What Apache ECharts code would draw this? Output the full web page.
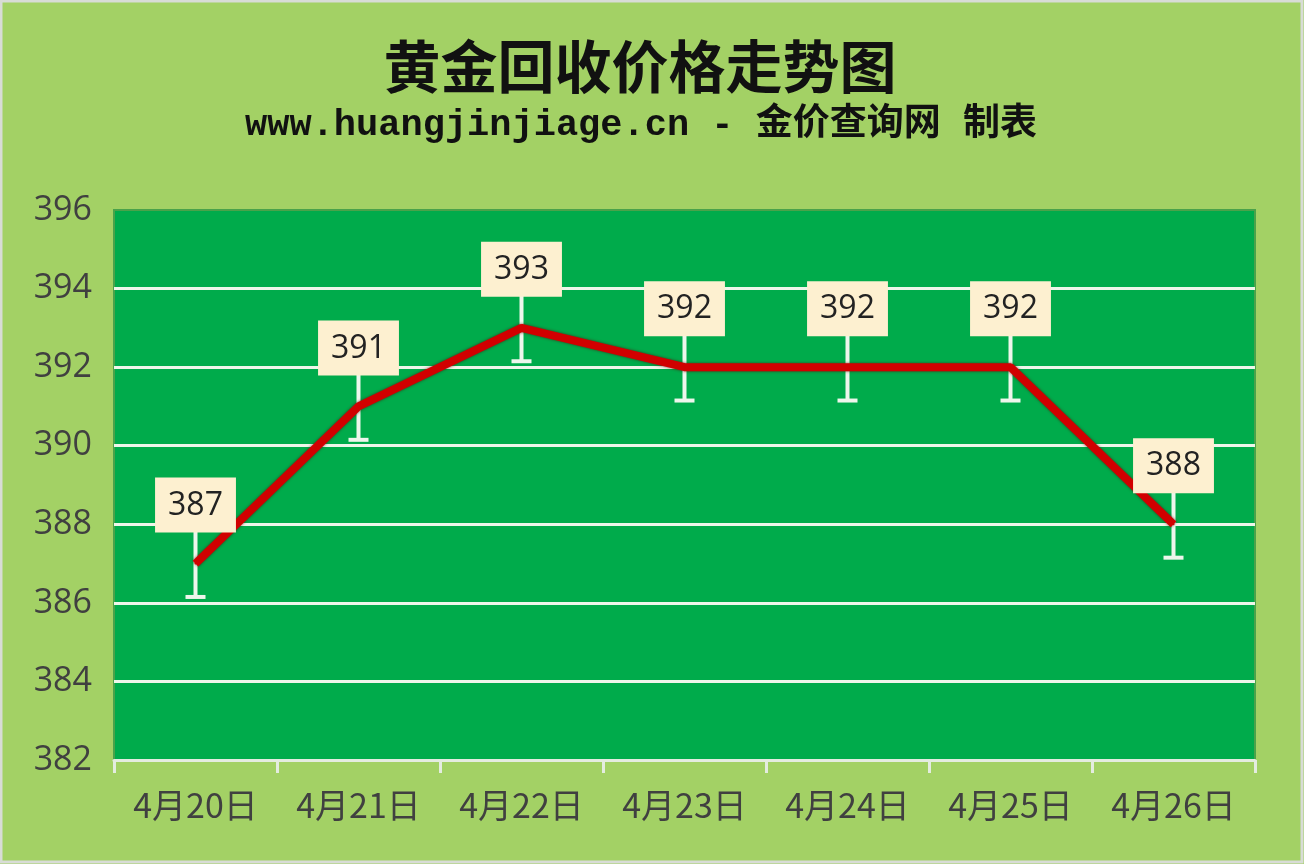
<!DOCTYPE html>
<html>
<head>
<meta charset="utf-8">
<title>黄金回收价格走势图</title>
<script src="https://cdn.jsdelivr.net/npm/echarts@6/dist/echarts.min.js"></script>
<style>
  html, body { margin: 0; padding: 0; background: #a3d165; }
  #chart { width: 1304px; height: 864px; }
</style>
</head>
<body>
<div id="chart"></div>
<script>
// data
var dates = ['4月20日', '4月21日', '4月22日', '4月23日', '4月24日', '4月25日', '4月26日'];
var prices = [387, 391, 393, 392, 392, 392, 388];
var errorAmount = 0.85;
var yMin = 382, yMax = 396, yStep = 2;

var myChart = echarts.init(document.getElementById('chart'));

// error bar: line from value-err to value+err, cap only at bottom (top is under the label)
function renderError(params, api) {
  var x = api.value(0);
  var v = api.value(1);
  var low = api.coord([x, v - errorAmount]);
  var high = api.coord([x, v + errorAmount]);
  var st = { stroke: '#eef6ec', lineWidth: 4 };
  return {
    type: 'group',
    children: [
      { type: 'line', shape: { x1: low[0], y1: low[1], x2: high[0], y2: high[1] }, style: st },
      { type: 'line', shape: { x1: low[0] - 10, y1: low[1], x2: low[0] + 10, y2: low[1] }, style: st }
    ]
  };
}

myChart.setOption({
  backgroundColor: '#a3d165',
  animation: false,
  graphic: [
    {
      type: 'rect', z: -1,
      shape: { x: 1, y: 1, width: 1301, height: 861 },
      style: { fill: 'none', stroke: '#d8dcd6', lineWidth: 3 }
    },
    {
      type: 'text', x: 640, y: 66,
      style: {
        text: '黄金回收价格走势图', textAlign: 'center', textVerticalAlign: 'middle',
        font: 'bold 57px "Noto Sans CJK SC"', fill: '#111'
      }
    },
    {
      type: 'text', x: 641, y: 126,
      style: {
        text: 'www.huangjinjiage.cn - 金价查询网 制表', textAlign: 'center', textVerticalAlign: 'middle',
        font: 'bold 37px "Liberation Mono", "Noto Sans CJK SC"', fill: '#111'
      }
    }
  ],
  grid: {
    left: 114, right: 49, top: 210, bottom: 104,
    show: true, backgroundColor: '#00ab4b', borderColor: '#4aa24a', borderWidth: 2
  },
  xAxis: {
    type: 'category',
    data: dates,
    axisLine: { show: true, lineStyle: { color: '#e4ece0', width: 3 } },
    axisTick: { show: true, inside: false, alignWithLabel: false, length: 13, lineStyle: { color: '#e4ece0', width: 3 } },
    axisLabel: { margin: 28, fontSize: 34, color: '#404040', fontFamily: '"Noto Sans CJK SC"' }
  },
  yAxis: {
    type: 'value',
    min: yMin, max: yMax, interval: yStep,
    axisLine: { show: false },
    axisTick: { show: false },
    axisLabel: { margin: 22, fontSize: 34, color: '#404040', fontFamily: '"Open Sans"' },
    splitLine: { showMaxLine: false, lineStyle: { color: '#eef6ea', width: 3 } }
  },
  series: [
    {
      type: 'custom',
      z: 2,
      renderItem: renderError,
      data: prices.map(function (p, i) { return [i, p]; })
    },
    {
      type: 'line',
      z: 3,
      data: prices,
      symbol: 'circle',
      symbolSize: 2,
      itemStyle: { color: '#d10000' },
      lineStyle: {
        color: '#d10000', width: 8,
        shadowColor: 'rgba(90,0,0,0.7)', shadowBlur: 3
      },
      label: {
        show: true,
        position: 'top',
        distance: 30,
        fontSize: 32,
        fontFamily: '"Open Sans"',
        color: '#222',
        backgroundColor: '#fdf0d0',
        padding: [12, 13, 11, 13]
      }
    }
  ]
});
</script>
</body>
</html>
